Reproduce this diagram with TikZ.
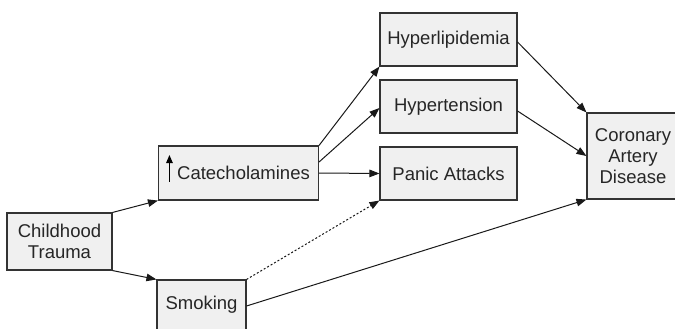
\documentclass[tikz,border=0pt]{standalone}
\usepackage{fontspec}
\setmainfont{Liberation Sans}
\usetikzlibrary{arrows.meta,calc}
\begin{document}
\begin{tikzpicture}[x=1pt,y=-1pt,
  box/.style={draw=black!80,line width=1.1pt,fill=black!6,inner sep=0pt,
    font=\fontsize{18.5}{21}\selectfont,text=black!85,align=center},
  link/.style={line width=1pt,draw=black!90,-{Triangle[length=10pt,width=7.5pt]}},
  dotlink/.style={link,dash pattern=on 2pt off 2pt}]
\useasboundingbox (0,0) rectangle (675,329);
\begin{scope}
\clip (0,0) rectangle (675,329);
\node[box,minimum width=105pt,minimum height=57pt] (trauma) at (59.5,241.5) {Childhood\\Trauma};
\node[box,minimum width=160pt,minimum height=54pt] (cat) at (238.5,173) {\hspace*{10pt}Catecholamines};
\node[box,minimum width=89pt,minimum height=50pt] (smoke) at (201.5,305) {Smoking};
\node[box,minimum width=137pt,minimum height=53pt] (hlip) at (448.5,39.5) {Hyperlipidemia};
\node[box,minimum width=137pt,minimum height=53pt] (htn) at (448.5,106.5) {Hypertension};
\node[box,minimum width=137pt,minimum height=53pt] (panic) at (448.5,173.5) {Panic Attacks};
\node[box,minimum width=92pt,minimum height=86pt] (cad) at (633,156) {Coronary\\Artery\\Disease};
\end{scope}
\coordinate (upbot) at ($(cat.west)+(11.5,8.5)$);
\coordinate (uptop) at ($(cat.west)+(11.5,-18)$);
\draw[line width=1.1pt,-{Triangle[length=8pt,width=6.5pt]}] (upbot) -- (uptop);
\draw[link] (trauma.north east) -- (cat.south west);
\draw[link] (trauma.south east) -- (smoke.north west);
\draw[link] (cat.north east) -- (hlip.south west);
\draw[link] ($(cat.east)+(0,-11)$) -- ($(htn.west)+(0,1.5)$);
\draw[link] (cat.east) -- (panic.west);
\draw[dotlink] (smoke.north east) -- (panic.south west);
\draw[link] ($(smoke.east)+(0,1)$) -- (cad.south west);
\draw[link] ($(hlip.east)+(0,2.5)$) -- (cad.north west);
\draw[link] ($(htn.east)+(0,4.5)$) -- ($(cad.west)+(0,0)$);
\end{tikzpicture}
\end{document}
